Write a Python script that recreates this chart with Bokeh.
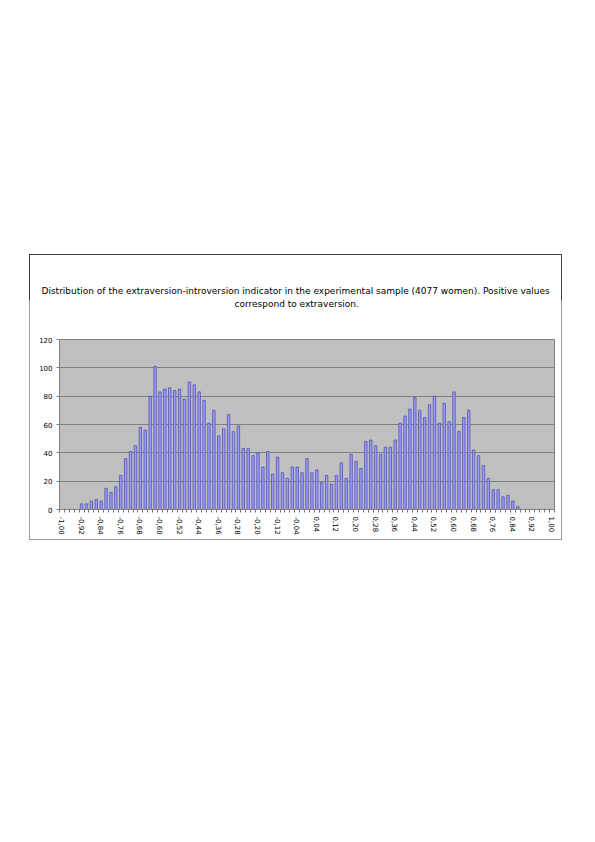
import math
from bokeh.plotting import figure
from bokeh.layouts import column, row
from bokeh.models import Spacer, FixedTicker, ColumnDataSource, Title
from bokeh.embed import file_html
from bokeh.resources import INLINE

# ---- data -------------------------------------------------------------
# histogram bins: -1.00 ... 1.00 in steps of 0.02 (101 bins)
bins = [round(-1.0 + 0.02 * i, 2) for i in range(101)]

counts = [0, 0, 0, 0, 4, 4, 6, 7, 6, 15, 12, 16, 24, 36, 41, 45, 58, 56, 80, 101,
          83, 85, 86, 84, 85, 78, 90, 88, 83, 77, 61, 70, 52, 57, 67, 55, 59, 43,
          43, 38, 40, 30, 41, 25, 37, 26, 22, 30, 30, 26, 36, 26, 28, 19, 24, 18,
          24, 33, 22, 39, 34, 29, 48, 49, 45, 39, 44, 44, 49, 61, 66, 71, 79, 70,
          65, 74, 80, 61, 75, 62, 83, 55, 65, 70, 42, 38, 31, 22, 14, 14, 9, 10,
          6, 2, 0, 0, 0, 0, 0, 0, 0]

x_tick_labels = ["-1,00", "-0,92", "-0,84", "-0,76", "-0,68", "-0,60", "-0,52",
                 "-0,44", "-0,36", "-0,28", "-0,20", "-0,12", "-0,04", "0,04",
                 "0,12", "0,20", "0,28", "0,36", "0,44", "0,52", "0,60", "0,68",
                 "0,76", "0,84", "0,92", "1,00"]
y_ticks = [0, 20, 40, 60, 80, 100, 120]

title_line1 = ("Distribution of the extraversion-introversion indicator in the "
               "experimental sample (4077 women). Positive values")
title_line2 = "correspond to extraversion."

# ---- build ------------------------------------------------------------
def fmt(v):
    s = "%.2f" % v
    return s.replace(".", ",")

pos = list(range(len(bins)))
src = ColumnDataSource(dict(x=pos, top=counts))

label_pos = {}
for i, b in enumerate(bins):
    if fmt(b) in x_tick_labels:
        label_pos[i] = fmt(b)

p = figure(width=533, height=286, output_backend="svg", toolbar_location=None,
           x_range=(-0.5, len(bins) - 0.5), y_range=(0, 120),
           min_border_left=29, min_border_right=9, min_border_top=84,
           min_border_bottom=32)

def style_title(t, standoff, offset):
    t.align = "left"
    t.text_font = "DejaVu Sans"
    t.text_font_size = "9px"
    t.text_font_style = "normal"
    t.text_color = "#000000"
    t.standoff = standoff
    t.offset = offset

# added titles stack outward from the frame; the main title is outermost
p.title.text = title_line1
style_title(p.title, 1, -18)
spacer_title = Title(text=" ")
style_title(spacer_title, 18, 0)
p.add_layout(spacer_title, "above")
t2 = Title(text=title_line2)
style_title(t2, 1, 175)
p.add_layout(t2, "above")

p.background_fill_color = "#c0c0c0"
p.border_fill_color = "#ffffff"
p.outline_line_color = "#808080"
p.outline_line_width = 1

p.vbar(x="x", top="top", width=0.5, source=src, fill_color="#9999ff",
       line_color="#4b4bab", line_width=0.7)

p.xgrid.visible = False
p.ygrid.grid_line_color = "#808080"
p.ygrid.grid_line_width = 1

p.yaxis.ticker = FixedTicker(ticks=y_ticks, minor_ticks=[])
p.yaxis.major_tick_in = 0
p.yaxis.major_tick_out = 3
p.yaxis.major_tick_line_color = "#808080"
p.yaxis.axis_line_color = "#808080"
p.yaxis.major_label_text_font = "DejaVu Sans"
p.yaxis.major_label_text_font_size = "7px"
p.yaxis.major_label_text_color = "#000000"
p.yaxis.major_label_standoff = 4
p.yaxis.minor_tick_line_color = None

p.xaxis.ticker = FixedTicker(ticks=list(label_pos.keys()),
                             minor_ticks=[i - 0.5 for i in range(len(bins) + 1)])
p.xaxis.major_label_overrides = label_pos
p.xaxis.major_label_orientation = -math.pi / 2
p.xaxis.major_tick_in = 0
p.xaxis.major_tick_out = 0
p.xaxis.minor_tick_in = 0
p.xaxis.minor_tick_out = 3
p.xaxis.minor_tick_line_color = "#707070"
p.xaxis.axis_line_color = "#808080"
p.xaxis.major_label_text_font = "DejaVu Sans"
p.xaxis.major_label_text_font_size = "7px"
p.xaxis.major_label_text_color = "#000000"
p.xaxis.major_label_standoff = 4

p.styles = {
    "border": "1px solid #707070",
    "border-image": "linear-gradient(to bottom, #404040 0px, #404040 46px, #9a9a9a 46px, #9a9a9a 100%) 1",
}

layout = column(Spacer(height=254), row(Spacer(width=29), p))

open("out.html", "w").write(file_html(layout, INLINE))
